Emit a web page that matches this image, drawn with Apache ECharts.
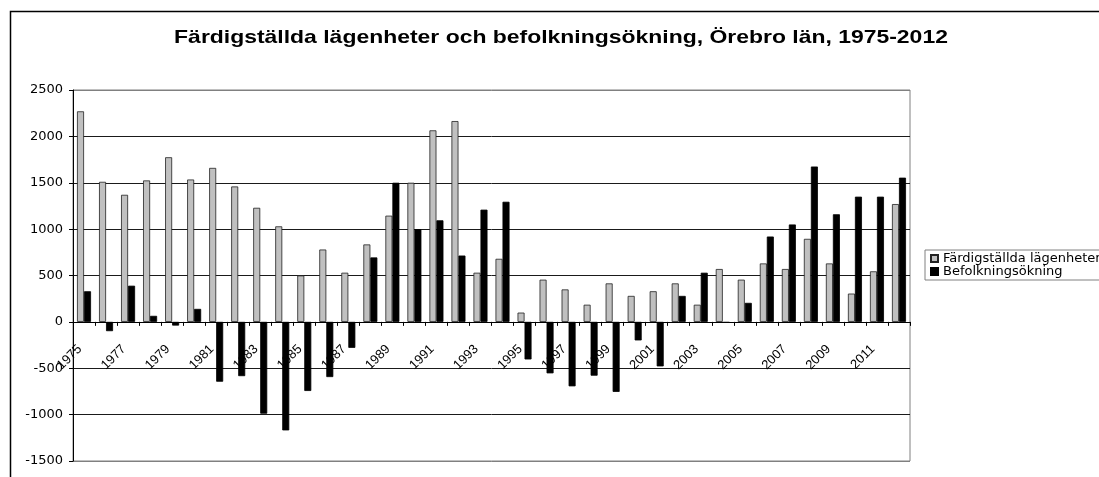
<!DOCTYPE html>
<html><head><meta charset="utf-8">
<script src="https://cdn.jsdelivr.net/npm/echarts@6/dist/echarts.min.js"></script>
<style>html,body{margin:0;padding:0;background:#fff}#c{width:1099px;height:477px}</style>
</head><body><div id="c"></div>
<script>
const years = ['1975','1976','1977','1978','1979','1980','1981','1982','1983','1984',
  '1985','1986','1987','1988','1989','1990','1991','1992','1993','1994',
  '1995','1996','1997','1998','1999','2000','2001','2002','2003','2004',
  '2005','2006','2007','2008','2009','2010','2011','2012'];
const completedDwellings = [2270,1510,1370,1525,1775,1535,1660,1460,1230,1030,
  500,780,530,835,1145,1500,2065,2165,530,680,
  100,455,350,185,415,280,330,415,185,570,
  455,630,570,895,630,305,545,1270];
const populationIncrease = [330,-100,390,65,-40,140,-645,-585,-990,-1170,
  -745,-595,-280,695,1500,1000,1095,715,1210,1295,
  -405,-555,-695,-580,-755,-200,-480,280,530,-10,
  205,920,1050,1675,1160,1350,1350,1555];
const seriesNames = ['Färdigställda lägenheter', 'Befolkningsökning'];
const yMin = -1500, yMax = 2500, yStep = 500;
const titleText = 'Färdigställda lägenheter och befolkningsökning, Örebro län, 1975-2012';

const FONT = '"Liberation Sans", Arial, sans-serif';
const WFONT = '"DejaVu Sans", sans-serif';
const nLines = (yMax - yMin) / yStep + 1;
const splitColors = [];
for (let i = 0; i < nLines; i++) splitColors.push(i === 0 || i === nLines - 1 ? '#808080' : '#1a1a1a');

const W = 1099, H = 477;
const gridTop = 90, gridBottom = 16;
const plotH = H - gridTop - gridBottom;
// move the category axis (line, ticks, labels) up to the zero line
const zeroOffset = -plotH * (0 - yMin) / (yMax - yMin);

const chart = echarts.init(document.getElementById('c'), null, {renderer: 'canvas'});
chart.setOption({
  backgroundColor: '#fff',
  animation: false,
  graphic: [{
    type: 'rect', left: 8, top: 9, z: 100, silent: true,
    shape: {x: 0, y: 0, width: 1200, height: 600},
    style: {fill: 'none', stroke: '#000', lineWidth: 1.5}
  }, {
    type: 'text', x: 561, y: 37.5, scaleX: 1.24, silent: true,
    style: {text: titleText, textAlign: 'center', textVerticalAlign: 'middle',
      fontFamily: FONT, fontSize: 18.5, fontWeight: 'bold', fill: '#000'}
  }],
  legend: {
    orient: 'vertical', left: 925, top: 250,
    padding: [2, 5], itemGap: 0, itemWidth: 7, itemHeight: 7,
    borderColor: '#808080', borderWidth: 1,
    icon: 'rect',
    textStyle: {fontFamily: WFONT, fontSize: 13, color: '#000', lineHeight: 12},
    data: seriesNames
  },
  grid: {left: 73, right: 189, top: gridTop, bottom: gridBottom, show: true, borderColor: '#808080', borderWidth: 1,
    containLabel: false, outerBoundsMode: 'none'},
  xAxis: {
    type: 'category', data: years, boundaryGap: true, position: 'bottom', offset: zeroOffset,
    axisLine: {onZero: false, lineStyle: {color: '#000', width: 1}},
    axisTick: {show: true, interval: 0, length: 4, lineStyle: {color: '#000'}},
    axisLabel: {interval: 1, rotate: 45, margin: 21, padding: [0, 6, 0, 0],
      fontFamily: FONT, fontSize: 13, color: '#000', hideOverlap: false},
    splitLine: {show: false}
  },
  yAxis: {
    type: 'value', min: yMin, max: yMax, interval: yStep,
    axisLine: {show: true, lineStyle: {color: '#000', width: 1}},
    axisTick: {show: true, length: 4, lineStyle: {color: '#000'}},
    axisLabel: {margin: 10, fontFamily: WFONT, fontSize: 13, color: '#000', formatter: v => String(v)},
    splitLine: {show: true, lineStyle: {color: splitColors, width: 1}}
  },
  series: [
    {name: seriesNames[0], type: 'bar', data: completedDwellings, barWidth: 7, barGap: '0%',
     itemStyle: {color: '#c0c0c0', borderColor: '#222', borderWidth: 0.8}},
    {name: seriesNames[1], type: 'bar', data: populationIncrease, barWidth: 7, barGap: '0%',
     itemStyle: {color: '#000', borderColor: '#000', borderWidth: 0.8}}
  ]
});
</script>
</body></html>
